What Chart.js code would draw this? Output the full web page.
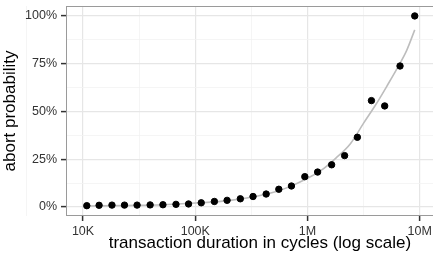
<!DOCTYPE html>
<html>
<head>
<meta charset="utf-8">
<script src="https://cdn.jsdelivr.net/npm/chart.js@4.4.1/dist/chart.umd.min.js"></script>
<style>
  html, body { margin: 0; padding: 0; background: #fff; overflow: hidden; }
  #wrap { width: 458px; height: 254px; }
</style>
</head>
<body>
<div id="wrap"><canvas id="chart" width="458" height="254"></canvas></div>
<script>
// measured points: transaction duration (cycles) vs abort probability (%)
const durations = [10800, 13900, 18100, 23400, 30300, 39600, 51500, 67300, 87100, 113000,
                   148000, 192000, 252000, 327000, 428000, 555000, 719000, 946000, 1230000, 1640000,
                   2140000, 2780000, 3710000, 4870000, 6670000, 9020000];
const abortPct = [0.7, 0.9, 1.0, 1.0, 1.0, 1.1, 1.2, 1.4, 1.6, 2.2,
                  2.9, 3.5, 4.3, 5.5, 6.8, 9.3, 11.0, 15.9, 18.3, 22.1,
                  26.9, 36.5, 55.7, 52.9, 73.8, 100];

// fitted grey curve
const curveX   = [10800, 23700, 51800, 111000, 205000, 343000, 518000, 705000, 960000, 1310000,
                  1780000, 2420000, 3160000, 4050000, 5180000, 6490000, 7650000, 9020000];
const curvePct = [0.5, 0.8, 1.2, 2.2, 3.5, 5.5, 8.0, 10.8, 14.5, 19.0,
                  25.5, 33.3, 43.9, 53.5, 64.0, 74.0, 82.0, 92.7];

const xTickValues = [3162, 10000, 31623, 100000, 316228, 1000000, 3162278, 10000000];
const xTickLabels = ['', '10K', '', '100K', '', '1M', '', '10M'];
const yTickValues = [0, 12.5, 25, 37.5, 50, 62.5, 75, 87.5, 100];

const FONT = "'Liberation Sans', Arial, sans-serif";

const panelBorder = {
  id: 'panelBorder',
  afterDatasetsDraw(chart) {
    const a = chart.chartArea, ctx = chart.ctx;
    ctx.save();
    ctx.strokeStyle = '#9a9a9a';
    ctx.lineWidth = 1;
    ctx.strokeRect(a.left + 0.5, a.top + 0.5, a.right - a.left - 1, a.bottom - a.top - 1);
    ctx.restore();
  }
};

function isMajorX(v) { return xTickLabels[xTickValues.indexOf(v)] !== ''; }
function noPad(s) { s.paddingLeft = 0; s.paddingRight = 0; s.paddingTop = 0; s.paddingBottom = 0; }

new Chart(document.getElementById('chart'), {
  type: 'scatter',
  data: {
    datasets: [
      {
        label: 'observed',
        data: durations.map((d, i) => ({ x: d, y: abortPct[i] })),
        backgroundColor: '#000',
        borderColor: '#000',
        pointRadius: 3.2,
        pointHoverRadius: 3.2,
        order: 0
      },
      {
        label: 'fit',
        type: 'line',
        data: curveX.map((d, i) => ({ x: d, y: curvePct[i] })),
        borderColor: '#bdbdbd',
        borderWidth: 1.6,
        pointRadius: 0,
        fill: false,
        cubicInterpolationMode: 'monotone',
        order: 1
      }
    ]
  },
  options: {
    responsive: false,
    animation: false,
    layout: { padding: { top: 6, right: 0, left: 0, bottom: 0 } },
    plugins: { legend: { display: false }, tooltip: { enabled: false } },
    scales: {
      x: {
        type: 'logarithmic',
        min: 7050,
        max: 20100000,
        afterBuildTicks: (s) => { s.ticks = xTickValues.map(v => ({ value: v })); },
        afterFit: (s) => { s.height = 38; noPad(s); },
        border: { display: false },
        grid: {
          color: (c) => (c.tick && isMajorX(c.tick.value)) ? '#e6e6e6' : '#f3f3f3',
          lineWidth: (c) => (c.tick && isMajorX(c.tick.value)) ? 1.2 : 0.8,
          tickColor: (c) => (c.tick && isMajorX(c.tick.value)) ? '#333' : 'rgba(0,0,0,0)',
          tickWidth: 1.5,
          tickLength: 5
        },
        ticks: {
          autoSkip: false,
          maxRotation: 0,
          padding: 3,
          color: '#333',
          font: { family: FONT, size: 12.5 },
          callback: (v) => xTickLabels[xTickValues.indexOf(v)]
        },
        title: {
          display: true,
          text: 'transaction duration in cycles (log scale)',
          color: '#000',
          font: { family: FONT, size: 17 },
          padding: { top: 0, bottom: 0 }
        }
      },
      y: {
        min: -4.7,
        max: 105.2,
        afterBuildTicks: (s) => { s.ticks = yTickValues.map(v => ({ value: v })); },
        afterFit: (s) => { s.width = 66; noPad(s); },
        border: { display: false },
        grid: {
          color: (c) => (c.tick && c.tick.value % 25 === 0) ? '#e6e6e6' : '#f3f3f3',
          lineWidth: (c) => (c.tick && c.tick.value % 25 === 0) ? 1.2 : 0.8,
          tickColor: (c) => (c.tick && c.tick.value % 25 === 0) ? '#333' : 'rgba(0,0,0,0)',
          tickWidth: 1.5,
          tickLength: 5
        },
        ticks: {
          autoSkip: false,
          padding: 4,
          color: '#333',
          font: { family: FONT, size: 12.5 },
          callback: (v) => (v % 25 === 0) ? v + '%' : ''
        },
        title: {
          display: true,
          text: 'abort probability',
          color: '#000',
          font: { family: FONT, size: 17 },
          padding: { top: 0, bottom: 2 }
        }
      }
    }
  },
  plugins: [panelBorder]
});
</script>
</body>
</html>
